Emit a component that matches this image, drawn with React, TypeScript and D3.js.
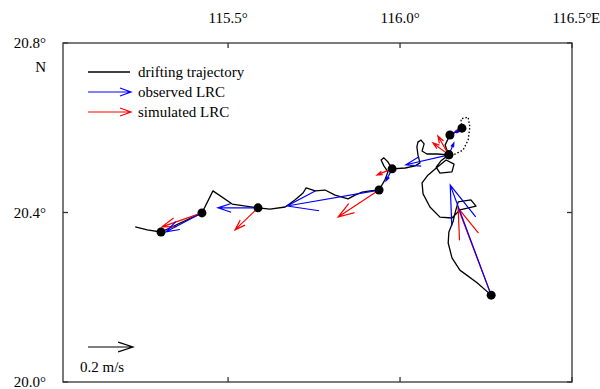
import React from 'react';
import * as d3 from 'd3';

// drifter track, solid part (west end -> NE cluster)
const trackWestLon = [115.230, 115.265, 115.305, 115.424, 115.456, 115.512, 115.587, 115.622, 115.666, 115.695, 115.718, 115.727, 115.753, 115.782, 115.811, 115.849, 115.869, 115.890, 115.913, 115.939, 115.956, 115.965, 115.953, 115.945, 115.953, 115.965, 115.977, 116.015, 116.044, 116.058, 116.052, 116.049, 116.052, 116.061, 116.070, 116.064, 116.078, 116.108, 116.142, 116.131, 116.145, 116.180];
const trackWestLat = [20.366, 20.359, 20.354, 20.399, 20.451, 20.420, 20.411, 20.408, 20.413, 20.430, 20.446, 20.458, 20.451, 20.453, 20.441, 20.432, 20.441, 20.448, 20.451, 20.453, 20.477, 20.496, 20.510, 20.524, 20.529, 20.519, 20.503, 20.505, 20.510, 20.517, 20.536, 20.555, 20.566, 20.571, 20.562, 20.545, 20.538, 20.538, 20.536, 20.559, 20.583, 20.599];

// solid part, loop below the cluster and the southern leg
const trackSouthLon = [116.142, 116.119, 116.105, 116.116, 116.151, 116.157, 116.134, 116.108, 116.081, 116.064, 116.067, 116.087, 116.116, 116.151, 116.174, 116.221, 116.206, 116.169, 116.160, 116.154, 116.142, 116.140, 116.151, 116.174, 116.224, 116.265];
const trackSouthLat = [20.536, 20.522, 20.507, 20.493, 20.496, 20.514, 20.524, 20.507, 20.488, 20.470, 20.444, 20.413, 20.389, 20.387, 20.406, 20.415, 20.430, 20.425, 20.399, 20.378, 20.354, 20.328, 20.293, 20.264, 20.234, 20.205];

// dotted gap in the track
const gapLon = [116.180, 116.177, 116.198, 116.203, 116.198, 116.183, 116.160, 116.142];
const gapLat = [20.599, 20.621, 20.625, 20.602, 20.571, 20.547, 20.538, 20.536];

// stations with residual currents (m/s, u east, v north)
const stationLon = [115.305, 115.424, 115.587, 115.939, 115.977, 116.142, 116.142, 116.145, 116.180, 116.265];
const stationLat = [20.354, 20.399, 20.411, 20.453, 20.503, 20.536, 20.536, 20.583, 20.599, 20.205];
const obsU = [0, -0.160, -0.178, -0.409, -0.027, -0.191, 0.022, 0.036, -0.018, -0.182];
const obsV = [0, -0.084, 0, -0.071, -0.053, -0.044, 0.053, 0.018, -0.018, 0.489];
const simU = [0, -0.178, -0.102, -0.182, -0.067, -0.071, -0.049, 0.044, -0.027, -0.147];
const simV = [0, -0.062, -0.098, -0.120, -0.027, 0.053, 0.084, 0.022, -0.013, 0.387];

const lonTicks = [115.5, 116.0, 116.5];
const lonTickLabels = ['115.5°', '116.0°', '116.5°'];
const latTicks = [20.0, 20.4, 20.8];
const latTickLabels = ['20.0°', '20.4°', '20.8°'];

const legendLabels = ['drifting trajectory', 'observed LRC', 'simulated LRC'];
const scaleSpeed = 0.2;

const W = 600;
const H = 389;
const FONT = "'Liberation Serif', 'DejaVu Serif', serif";

const x = d3.scaleLinear().domain([115.02, 116.5]).range([63, 572]);
const y = d3.scaleLinear().domain([20.0, 20.8]).range([382, 43]);
// pixels per m/s for the arrows
const speed = d3.scaleLinear().domain([0, scaleSpeed]).range([0, 45]);

const line = d3.line<[number, number]>().x(d => x(d[0])).y(d => y(d[1]));

// matlab quiver style arrow: shaft + head (0.33 length, 0.33 width)
function quiverPath(x0: number, y0: number, dx: number, dy: number) {
  if (Math.hypot(dx, dy) < 0.5) return '';
  const a = 0.33, b = 0.33;
  const x1 = x0 + dx, y1 = y0 + dy;
  const h1x = x1 - a * (dx + b * dy), h1y = y1 - a * (dy - b * dx);
  const h2x = x1 - a * (dx - b * dy), h2y = y1 - a * (dy + b * dx);
  return `M${x0},${y0}L${x1},${y1}M${h1x},${h1y}L${x1},${y1}L${h2x},${h2y}`;
}

function legendArrow(x0: number, x1: number, yy: number) {
  return `M${x0},${yy}L${x1},${yy}M${x1 - 11},${yy - 4}L${x1},${yy}L${x1 - 11},${yy + 4}`;
}

export default function App() {
  const west = trackWestLon.map((d, i) => [d, trackWestLat[i]] as [number, number]);
  const south = trackSouthLon.map((d, i) => [d, trackSouthLat[i]] as [number, number]);
  const gap = gapLon.map((d, i) => [d, gapLat[i]] as [number, number]);
  const [left, right] = x.range();
  const [bottom, top] = y.range();

  return (
    <svg width={W} height={H} style={{ position: 'absolute', left: 0, top: 0, background: '#fff', fontFamily: FONT, fontSize: 15 }}>
      <rect x={0} y={0} width={W} height={H} fill="#fff" />

      {/* track */}
      <path d={line(west) || ''} fill="none" stroke="#000" strokeWidth={1.3} strokeLinejoin="round" />
      <path d={line(south) || ''} fill="none" stroke="#000" strokeWidth={1.3} strokeLinejoin="round" />
      <path d={line(gap) || ''} fill="none" stroke="#000" strokeWidth={1.3} strokeDasharray="1.5,2" />

      {/* residual currents */}
      {stationLon.map((lon, i) => (
        <path key={'s' + i} d={quiverPath(x(lon), y(stationLat[i]), speed(simU[i]), -speed(simV[i]))}
          fill="none" stroke="#ff0000" strokeWidth={1.2} />
      ))}
      {stationLon.map((lon, i) => (
        <path key={'o' + i} d={quiverPath(x(lon), y(stationLat[i]), speed(obsU[i]), -speed(obsV[i]))}
          fill="none" stroke="#0000ff" strokeWidth={1.2} />
      ))}
      {stationLon.map((lon, i) => (
        <circle key={'c' + i} cx={x(lon)} cy={y(stationLat[i])} r={4.5} fill="#000" />
      ))}

      {/* frame */}
      <rect x={left} y={top} width={right - left} height={bottom - top} fill="none" stroke="#333" strokeWidth={1.3} />
      {lonTicks.map(t => (
        <g key={'lx' + t}>
          <line x1={x(t)} x2={x(t)} y1={top} y2={top + 5} stroke="#333" strokeWidth={1.3} />
          <line x1={x(t)} x2={x(t)} y1={bottom} y2={bottom - 5} stroke="#333" strokeWidth={1.3} />
        </g>
      ))}
      {latTicks.map(t => (
        <g key={'ly' + t}>
          <line x1={left} x2={left + 5} y1={y(t)} y2={y(t)} stroke="#333" strokeWidth={1.3} />
          <line x1={right} x2={right - 5} y1={y(t)} y2={y(t)} stroke="#333" strokeWidth={1.3} />
        </g>
      ))}
      {lonTicks.map((t, i) => (
        <text key={'tl' + t} x={x(t)} y={23} textAnchor="middle">{lonTickLabels[i]}</text>
      ))}
      <text x={x(116.5) + 19} y={23}>E</text>
      {latTicks.map((t, i) => (
        <text key={'tt' + t} x={46} y={y(t) + 5} textAnchor="end">{latTickLabels[i]}</text>
      ))}
      <text x={46} y={y(20.8) + 29} textAnchor="end">N</text>

      {/* legend */}
      <line x1={88} x2={130} y1={72} y2={72} stroke="#000" strokeWidth={1.3} />
      <path d={legendArrow(88, 131, 92)} fill="none" stroke="#0000ff" strokeWidth={1.2} />
      <path d={legendArrow(88, 131, 112)} fill="none" stroke="#ff0000" strokeWidth={1.2} />
      {legendLabels.map((s, i) => (
        <text key={s} x={138} y={77 + i * 20}>{s}</text>
      ))}

      {/* speed scale */}
      <path d={quiverPath(88, 347, speed(scaleSpeed), 0)} fill="none" stroke="#000" strokeWidth={1.2} />
      <text x={80} y={372}>0.2 m/s</text>
    </svg>
  );
}
